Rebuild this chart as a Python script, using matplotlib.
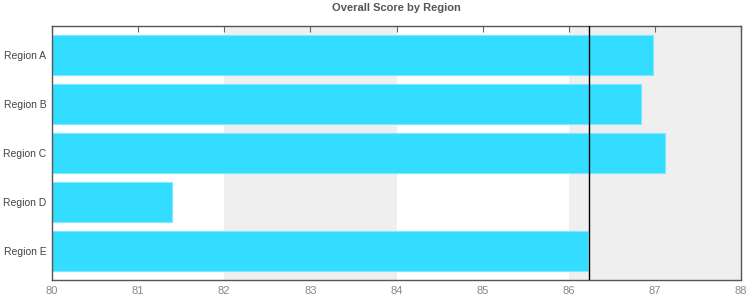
import matplotlib.pyplot as plt

regions = ['Region A', 'Region B', 'Region C', 'Region D', 'Region E']
scores = [86.98, 86.84, 87.12, 81.39, 86.22]
target = 86.24
x_ticks = [80, 81, 82, 83, 84, 85, 86, 87, 88]
bands = [(82, 84), (86, 88)]

plt.rcParams['font.family'] = ['Liberation Sans', 'DejaVu Sans']

fig = plt.figure(figsize=(7.5, 3.04), dpi=100)
ax = fig.add_axes([52 / 750, 1 - 280 / 304, (741 - 52) / 750, (280 - 26) / 304])

for lo, hi in bands:
    ax.axvspan(lo, hi, color='#efefef', lw=0, zorder=0)

ypos = list(range(len(regions)))
ax.barh(ypos, [s - 80 for s in scores], left=80, height=0.83,
        color='#33ddff', edgecolor='#7ee8ff', linewidth=0.8, zorder=2)
ax.axvline(target, color='black', lw=1, zorder=3)

ax.set_xlim(80, 88)
ax.set_ylim(4.59, -0.59)
ax.set_xticks(x_ticks)
ax.set_xticklabels([str(t) for t in x_ticks])
ax.set_yticks(ypos)
ax.set_yticklabels(regions)

ax.tick_params(axis='x', top=True, bottom=False, labelbottom=True,
               direction='in', length=4, width=0.8, color='#666666',
               labelsize=8, labelcolor='#888888', pad=4)
ax.tick_params(axis='y', length=0, labelsize=7.5, labelcolor='#444444', pad=4)

for sp in ax.spines.values():
    sp.set_color('#555555')
    sp.set_linewidth(1)

fig.text((52 + 741) / 2 / 750, 1 - 8 / 304, 'Overall Score by Region',
         ha='center', va='center', fontsize=8, fontweight='bold', color='#555555')

fig.savefig('out.png', dpi=100)
